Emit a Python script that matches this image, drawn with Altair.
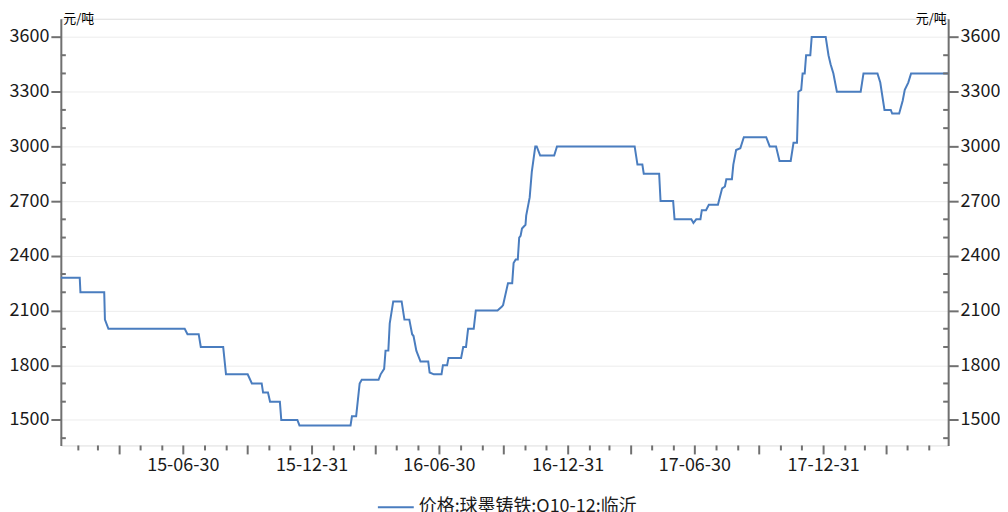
import altair as alt
import pandas as pd

series_name = "价格:球墨铸铁:Q10-12:临沂"

dates = [
    "2015-01-06", "2015-02-02", "2015-02-03", "2015-03-09", "2015-03-10", "2015-03-15",
    "2015-07-02", "2015-07-06", "2015-07-22", "2015-07-25", "2015-08-26", "2015-08-30",
    "2015-09-30", "2015-10-06", "2015-10-20", "2015-10-22", "2015-10-29", "2015-11-01",
    "2015-11-15", "2015-11-17", "2015-12-10", "2015-12-13", "2016-02-24", "2016-02-26",
    "2016-03-03", "2016-03-08", "2016-03-11", "2016-04-04", "2016-04-07", "2016-04-12",
    "2016-04-14", "2016-04-18", "2016-04-20", "2016-04-25", "2016-05-07", "2016-05-11",
    "2016-05-18", "2016-05-22", "2016-05-24", "2016-05-28", "2016-06-03", "2016-06-14",
    "2016-06-16", "2016-06-22", "2016-07-03", "2016-07-05", "2016-07-11", "2016-07-13",
    "2016-07-31", "2016-08-03", "2016-08-07", "2016-08-10", "2016-08-18", "2016-08-21",
    "2016-09-21", "2016-09-27", "2016-09-29", "2016-10-06", "2016-10-12", "2016-10-14",
    "2016-10-17", "2016-10-20", "2016-10-22", "2016-10-24", "2016-10-26", "2016-10-31",
    "2016-11-01", "2016-11-06", "2016-11-09", "2016-11-14", "2016-11-16", "2016-11-21",
    "2016-12-11", "2016-12-15", "2017-04-05", "2017-04-09", "2017-04-16", "2017-04-18",
    "2017-05-10", "2017-05-12", "2017-05-30", "2017-06-01", "2017-06-25", "2017-06-28",
    "2017-07-02", "2017-07-08", "2017-07-10", "2017-07-16", "2017-07-20", "2017-08-02",
    "2017-08-08", "2017-08-12", "2017-08-14", "2017-08-22", "2017-08-24", "2017-08-28",
    "2017-09-03", "2017-09-08", "2017-10-10", "2017-10-15", "2017-10-24", "2017-10-29",
    "2017-11-14", "2017-11-18", "2017-11-23", "2017-11-25", "2017-11-29", "2017-12-01",
    "2017-12-04", "2017-12-06", "2017-12-12", "2017-12-14", "2018-01-03", "2018-01-07",
    "2018-01-10", "2018-01-14", "2018-01-19", "2018-02-22", "2018-02-26", "2018-03-18",
    "2018-03-22", "2018-03-28", "2018-04-06", "2018-04-08", "2018-04-18", "2018-04-23",
    "2018-04-26", "2018-05-01", "2018-05-05", "2018-06-27",
]

prices = [
    2280, 2280, 2200, 2200, 2050, 2000,
    2000, 1970, 1970, 1900, 1900, 1750,
    1750, 1700, 1700, 1650, 1650, 1600,
    1600, 1500, 1500, 1470, 1470, 1520,
    1520, 1700, 1720, 1720, 1750, 1780,
    1880, 1880, 2030, 2150, 2150, 2050,
    2050, 1970, 1960, 1880, 1820, 1820,
    1760, 1750, 1750, 1800, 1800, 1840,
    1840, 1900, 1900, 2000, 2000, 2100,
    2100, 2120, 2130, 2250, 2250, 2360,
    2380, 2380, 2500, 2510, 2550, 2570,
    2620, 2720, 2860, 3000, 3000, 2950,
    2950, 3000, 3000, 2900, 2900, 2850,
    2850, 2700, 2700, 2600, 2600, 2580,
    2600, 2600, 2650, 2650, 2680, 2680,
    2770, 2780, 2820, 2820, 2900, 2980,
    2990, 3050, 3050, 3000, 3000, 2920,
    2920, 3020, 3020, 3300, 3310, 3400,
    3400, 3500, 3500, 3600, 3600, 3500,
    3450, 3400, 3300, 3300, 3400, 3400,
    3350, 3200, 3200, 3180, 3180, 3250,
    3310, 3350, 3400, 3400,
]

y_label_values = [1500, 1800, 2100, 2400, 2700, 3000, 3300, 3600]
y_minor_values = [1400, 1600, 1700, 1900, 2000, 2200, 2300, 2500, 2600,
                  2800, 2900, 3100, 3200, 3400, 3500]
x_label_dates = ["2015-06-30", "2015-12-31", "2016-06-30", "2016-12-31",
                 "2017-06-30", "2017-12-31"]
x_quarter_dates = ["2015-03-31", "2015-09-30", "2016-03-31", "2016-09-30",
                   "2017-03-31", "2017-09-30", "2018-03-31"]
x_month_dates = [
    "2015-01-31", "2015-02-28", "2015-04-30", "2015-05-31", "2015-07-31", "2015-08-31",
    "2015-10-31", "2015-11-30", "2016-01-31", "2016-02-29", "2016-04-30", "2016-05-31",
    "2016-07-31", "2016-08-31", "2016-10-31", "2016-11-30", "2017-01-31", "2017-02-28",
    "2017-04-30", "2017-05-31", "2017-07-31", "2017-08-31", "2017-10-31", "2017-11-30",
    "2018-01-31", "2018-02-28", "2018-04-30", "2018-05-31",
]
x_domain = ["2015-01-06", "2018-06-27"]
y_domain = [1360, 3700]
unit = "元/吨"

W, H = 890, 428
FONT = "Noto Sans CJK SC"
AXIS_GRAY = "#707070"
LINE_BLUE = "#4a7dbf"


def dt(s):
    t = pd.Timestamp(s)
    return alt.DateTime(year=t.year, month=t.month, date=t.day)


df = pd.DataFrame({"date": pd.to_datetime(dates), "price": prices, "series": series_name})
minor_df = pd.DataFrame({"v": y_minor_values})
month_df = pd.DataFrame({"d": pd.to_datetime(x_month_dates)})
quarter_df = pd.DataFrame({"d": pd.to_datetime(x_quarter_dates)})
label_df = pd.DataFrame({"d": pd.to_datetime(x_label_dates)})

xscale = alt.Scale(domain=[dt(d) for d in x_domain], nice=False)
yscale = alt.Scale(domain=y_domain, nice=False, zero=False)


def y_axis(orient):
    left = orient == "left"
    return alt.Axis(
        orient=orient,
        values=y_label_values,
        format="d",
        tickSize=10, tickColor=AXIS_GRAY, tickWidth=2,
        domainColor=AXIS_GRAY, domainWidth=2,
        labelFont=FONT, labelFontSize=18, labelColor="#1a1a1a", labelPadding=2,
        grid=left, gridColor="#ececec", gridWidth=1,
        title=unit, titleAngle=0, titleFont=FONT, titleFontSize=13,
        titleFontWeight="normal", titleColor="#000000",
        titleX=2 if left else -2, titleY=0,
        titleAlign="left" if left else "right", titleBaseline="middle",
    )


line = alt.Chart(df).mark_line(strokeWidth=2, interpolate="linear").encode(
    x=alt.X("date:T", scale=xscale, axis=alt.Axis(
        domainColor=AXIS_GRAY, domainWidth=2, ticks=False, labels=False,
        grid=False, title=None,
    )),
    y=alt.Y("price:Q", scale=yscale, axis=y_axis("left")),
    color=alt.Color(
        "series:N",
        scale=alt.Scale(range=[LINE_BLUE]),
        legend=alt.Legend(
            title=None, orient="none", legendX=317, legendY=471,
            symbolType="stroke", symbolSize=1296, symbolStrokeWidth=2,
            symbolStrokeColor=LINE_BLUE, labelLimit=0,
            labelFont=FONT, labelFontSize=18, labelColor="#1a1a1a", labelOffset=4,
        ),
    ),
)

right = alt.Chart(df).mark_line(opacity=0).encode(
    x=alt.X("date:T", scale=xscale, axis=None),
    y=alt.Y("price:Q", scale=yscale, axis=y_axis("right")),
)

minor_left = alt.Chart(minor_df).mark_rule(color=AXIS_GRAY, strokeWidth=2).encode(
    y=alt.Y("v:Q", scale=yscale, axis=None),
    x=alt.value(0), x2=alt.value(5),
)
minor_right = alt.Chart(minor_df).mark_rule(color=AXIS_GRAY, strokeWidth=2).encode(
    y=alt.Y("v:Q", scale=yscale, axis=None),
    x=alt.value(W - 5), x2=alt.value(W),
)
month_ticks = alt.Chart(month_df).mark_rule(color=AXIS_GRAY, strokeWidth=2).encode(
    x=alt.X("d:T", scale=xscale, axis=None),
    y=alt.value(H), y2=alt.value(H + 5),
)
quarter_ticks = alt.Chart(pd.concat([quarter_df, label_df])).mark_rule(
    color=AXIS_GRAY, strokeWidth=2
).encode(
    x=alt.X("d:T", scale=xscale, axis=None),
    y=alt.value(H), y2=alt.value(H + 9),
)
x_labels = alt.Chart(label_df).mark_text(
    font=FONT, fontSize=18, color="#1a1a1a", baseline="top", align="center"
).encode(
    x=alt.X("d:T", scale=xscale, axis=None),
    y=alt.value(H + 12),
    text=alt.Text("d:T", format="%y-%m-%d"),
)

chart = alt.layer(
    line, right, minor_left, minor_right, month_ticks, quarter_ticks, x_labels
).resolve_axis(
    y="independent"
).properties(
    width=W, height=H,
    padding={"top": 4, "left": 1, "right": 0, "bottom": 0},
).configure_view(stroke=None).configure(font=FONT)

chart.save("out.html", embed_options={"renderer": "svg", "actions": False})
